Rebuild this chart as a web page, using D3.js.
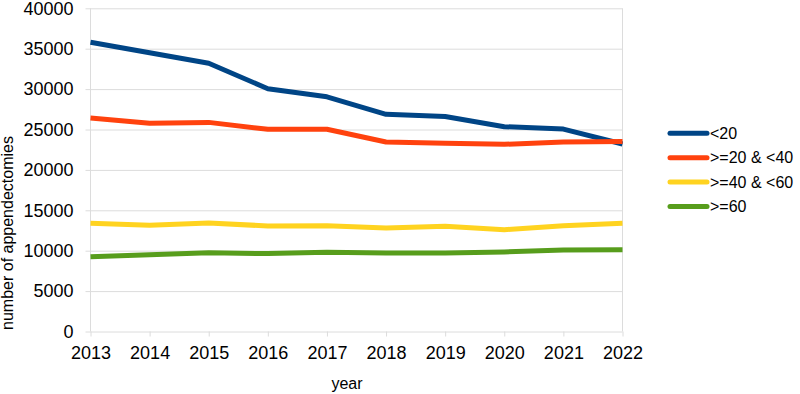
<!DOCTYPE html>
<html>
<head>
<meta charset="utf-8">
<script src="https://cdn.jsdelivr.net/npm/d3@7"></script>
<style>
  html, body { margin: 0; padding: 0; background: #fff; }
  svg { display: block; font-family: "Liberation Sans", Arial, sans-serif; }
</style>
</head>
<body>
<div id="chart"></div>
<script>
const YEARS = [2013, 2014, 2015, 2016, 2017, 2018, 2019, 2020, 2021, 2022];
const Y_TICKS = [0, 5000, 10000, 15000, 20000, 25000, 30000, 35000, 40000];

const UNDER_20    = [35800, 34500, 33200, 30050, 29050, 26880, 26600, 25350, 25050, 23200];
const FROM_20_40  = [26420, 25780, 25880, 25020, 25030, 23450, 23300, 23170, 23450, 23500];
const FROM_40_60  = [13390, 13140, 13430, 13060, 13100, 12800, 13020, 12600, 13100, 13390];
const OVER_60     = [9260, 9500, 9750, 9640, 9800, 9700, 9700, 9850, 10090, 10120];

const SERIES = [
  { name: '<20',          values: UNDER_20,   color: '#004586' },
  { name: '>=20 & <40',   values: FROM_20_40, color: '#ff420e' },
  { name: '>=40 & <60',   values: FROM_40_60, color: '#ffd320' },
  { name: '>=60',         values: OVER_60,    color: '#579d1c' },
];

const W = 800, H = 394;
const plot = { left: 90.5, right: 622.5, top: 8.3, bottom: 331.5 };

const svg = d3.select('#chart').append('svg')
  .attr('width', W).attr('height', H);

const x = d3.scalePoint()
  .domain(YEARS)
  .range([plot.left, plot.right]);

const y = d3.scaleLinear()
  .domain([0, 40000])
  .range([plot.bottom, plot.top]);

// horizontal grid + y labels
const yAxis = svg.append('g')
  .attr('transform', `translate(${plot.left},0)`)
  .call(d3.axisLeft(y)
    .tickValues(Y_TICKS)
    .tickSize(-(plot.right - plot.left))
    .tickPadding(17)
    .tickFormat(d3.format('d')));
yAxis.select('.domain').remove();
yAxis.selectAll('.tick line')
  .attr('stroke', '#dcdcdc')
  .attr('x1', -5);
yAxis.selectAll('.tick text')
  .attr('font-size', 18)
  .attr('fill', '#000')
  .attr('font-family', '"Liberation Sans", Arial, sans-serif');

// vertical borders
svg.append('line')
  .attr('x1', plot.left).attr('x2', plot.left)
  .attr('y1', plot.top).attr('y2', plot.bottom)
  .attr('stroke', '#dcdcdc');
svg.append('line')
  .attr('x1', plot.right).attr('x2', plot.right)
  .attr('y1', plot.top).attr('y2', plot.bottom)
  .attr('stroke', '#dcdcdc');

// x axis
const xAxis = svg.append('g')
  .attr('transform', `translate(0,${plot.bottom})`)
  .call(d3.axisBottom(x).tickSize(5).tickPadding(10));
xAxis.select('.domain').remove();
xAxis.selectAll('.tick line').attr('stroke', '#dcdcdc');
xAxis.selectAll('.tick text')
  .attr('font-size', 18)
  .attr('fill', '#000')
  .attr('font-family', '"Liberation Sans", Arial, sans-serif');

// lines
const line = d3.line()
  .x((d, i) => x(YEARS[i]))
  .y(d => y(d));

svg.append('g')
  .selectAll('path')
  .data(SERIES)
  .join('path')
  .attr('d', d => line(d.values))
  .attr('fill', 'none')
  .attr('stroke', d => d.color)
  .attr('stroke-width', 5)
  .attr('stroke-linejoin', 'round');

// axis titles
svg.append('text')
  .attr('transform', `translate(13,233) rotate(-90)`)
  .attr('text-anchor', 'middle')
  .attr('font-size', 16)
  .attr('fill', '#000')
  .text('number of appendectomies');

svg.append('text')
  .attr('x', 347).attr('y', 389)
  .attr('text-anchor', 'middle')
  .attr('font-size', 16)
  .attr('fill', '#000')
  .text('year');

// legend
const legend = svg.append('g')
  .attr('transform', 'translate(668,133.3)');

SERIES.forEach((s, i) => {
  const ly = i * 24.4;
  legend.append('line')
    .attr('x1', 2).attr('x2', 39)
    .attr('y1', ly).attr('y2', ly)
    .attr('stroke', s.color)
    .attr('stroke-width', 5)
    .attr('stroke-linecap', 'round');
  legend.append('text')
    .attr('x', 42).attr('y', ly + 5.5)
    .attr('font-size', 16)
    .attr('fill', '#000')
    .text(s.name);
});
</script>
</body>
</html>
